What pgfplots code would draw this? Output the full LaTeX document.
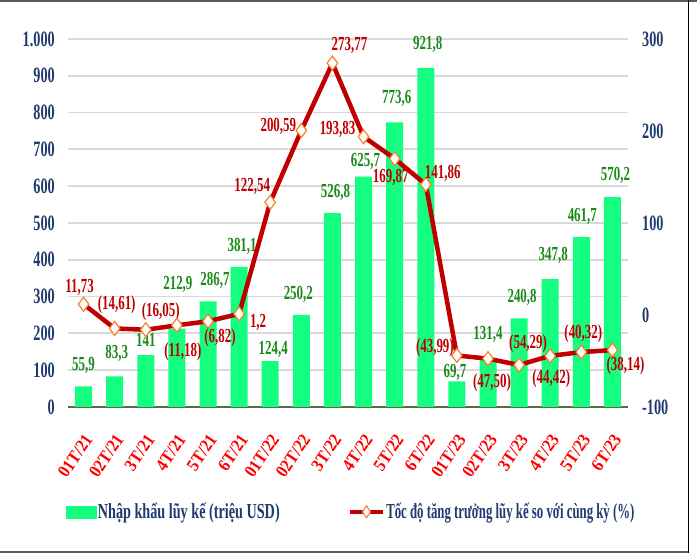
\documentclass[border=0pt]{standalone}
\usepackage{graphicx}
\usepackage{pgfplots}
\pgfplotsset{compat=1.18}
\usepackage{pgfplotstable}
\usepackage{fontspec}
\setmainfont{Liberation Serif}[FakeStretch=0.65]
\newfontfamily\xfont{Liberation Serif}[FakeStretch=0.9]
\definecolor{barg}{HTML}{14FF80}
\definecolor{lblg}{HTML}{1A8A1A}
\definecolor{linered}{HTML}{C00000}
\definecolor{navy}{HTML}{1F3A6E}
\definecolor{mko}{HTML}{F5822A}
\definecolor{gridg}{HTML}{D9D9D9}
\definecolor{basec}{HTML}{5B6B3F}

\pgfplotstableread{
x y lab dx dy
0 55.9 55,9 0 21
1 83.3 83,3 2 23
2 141 141 0 15
3 212.9 212,9 1 44
4 286.7 286,7 7 21
5 381.1 381,1 3 20
6 124.4 124,4 3 12
7 250.2 250,2 -3 21
8 526.8 526,8 3 21
9 625.7 625,7 2 15
10 773.6 773,6 2 24
11 921.8 921,8 2 23
12 69.7 69,7 -2 9
13 131.4 131,4 0 24
14 240.8 240,8 3 21
15 347.8 347,8 3 24
16 461.7 461,7 1 21
17 570.2 570,2 3 22
}\bardata

\pgfplotstableread{
x y lab dx dy
0 11.73 11,73 -4 17
1 -14.61 (14,61) 2 24
2 -16.05 (16,05) 15 18
3 -11.18 (11,18) 6 -26
4 -6.82 (6,82) 12 -16
5 1.2 1,2 19 -9
6 122.54 122,54 -18 16
7 200.59 200,59 -23 4
8 273.77 273,77 17 18
9 193.83 193,83 -26 7
10 169.87 169,87 -4 -19
11 141.86 141,86 17 11
12 -43.99 (43,99) -22 8
13 -47.50 (47,50) 4 -24
14 -54.29 (54,29) 9 21
15 -44.42 (44,42) 1 -23
16 -40.32 (40,32) 2 18
17 -38.14 (38,14) 13 -16
}\linedata

\begin{document}
\begin{tikzpicture}
\begin{axis}[
  at={(68bp,149bp)}, anchor=south west, scale only axis,
  width=560bp, height=368bp,
  xmin=-0.5, xmax=17.5, ymin=0, ymax=1000,
  xtick={0,...,17},
  xticklabels={01T/21,02T/21,3T/21,4T/21,5T/21,6T/21,01T/22,02T/22,3T/22,4T/22,5T/22,6T/22,01T/23,02T/23,3T/23,4T/23,5T/23,6T/23},
  ytick={0,100,...,1000},
  axis x line*=bottom, axis y line*=left,
  x axis line style={draw=basec, line width=1.5bp, -},
  y axis line style={draw=none},
  major tick length=0pt,
  ymajorgrids, grid style={gridg, line width=1.8bp},
  yticklabel style={font=\fontsize{22}{22}\selectfont\bfseries, text=navy, anchor=east, inner sep=0pt, xshift=-13bp},
  xticklabel style={font={\xfont\bfseries\fontsize{18}{18}\selectfont}, text=red, xshift=5bp, yshift=-29bp, rotate=56, anchor=east, inner sep=0pt},
  /pgf/number format/1000 sep={.},
  /pgf/number format/assume math mode=true,
]
\addplot[ybar, bar width=17bp, bar shift=0pt, fill=barg, draw=none,
  point meta=explicit symbolic,
  nodes near coords,
  visualization depends on={\thisrow{dx}\as\offx},
  visualization depends on={\thisrow{dy}\as\offy},
  every node near coord/.append style={anchor=center, xshift=\offx bp, yshift=\offy bp, text=lblg, font=\fontsize{20}{20}\selectfont\bfseries, inner sep=0pt}
] table[x=x, y=y, meta=lab] {\bardata};
\end{axis}

\begin{axis}[
  at={(68bp,149bp)}, anchor=south west, scale only axis,
  width=560bp, height=368bp,
  xmin=-0.5, xmax=17.5, ymin=-100, ymax=300,
  ytick={-100,0,100,200,300},
  axis y line*=right, axis x line=none,
  y axis line style={draw=none},
  major tick length=0pt,
  yticklabel style={font=\fontsize{22}{22}\selectfont\bfseries, text=navy, anchor=west, inner sep=0pt, xshift=14bp},
  /pgf/number format/assume math mode=true,
  legend columns=2,
  legend style={at={(-0.004,-0.285)}, anchor=west, draw=none, fill=none, inner sep=0pt,
    font=\fontsize{21.5}{21.5}\selectfont\bfseries, text=navy,
    nodes={inner sep=1.5bp},
    /tikz/every even column/.append style={column sep=66bp}},
  legend cell align=left,
]
\addlegendimage{legend image code/.code={\fill[barg] (0bp,-6bp) rectangle (30bp,6bp);}}
\addlegendentry{\scalebox{1.02}[1]{Nhập khẩu lũy kế (triệu USD)}}
\addplot[linered, line width=4.5bp, mark=diamond*, mark size=7bp,
  mark options={fill=white, draw=mko, line width=1.2bp},
  legend image code/.code={\draw[linered, line width=4.5bp] (0bp,0bp) -- (33bp,0bp);
     \draw[mko, fill=white, line width=1bp] (17bp,-6bp) -- (21bp,0bp) -- (17bp,6bp) -- (13bp,0bp) -- cycle;},
  point meta=explicit symbolic,
  nodes near coords,
  visualization depends on={\thisrow{dx}\as\offx},
  visualization depends on={\thisrow{dy}\as\offy},
  every node near coord/.append style={anchor=center, xshift=\offx bp, yshift=\offy bp, text=linered, font=\fontsize{20}{20}\selectfont\bfseries, inner sep=0pt}
] table[x=x, y=y, meta=lab] {\linedata};
\addlegendentry{\scalebox{0.92}[1]{Tốc độ tăng trưởng lũy kế so với cùng kỳ (\%)}}
\end{axis}

\draw[line width=2bp, black!65] (0bp,555bp) -- (697bp,555bp);
\draw[line width=2bp, black!65] (0bp,3.5bp) -- (689bp,3.5bp);
\draw[line width=1bp, black] (688.5bp,3bp) -- (688.5bp,556bp);

\pgfresetboundingbox
\useasboundingbox (0bp,0bp) rectangle (697bp,556bp);
\end{tikzpicture}
\end{document}
